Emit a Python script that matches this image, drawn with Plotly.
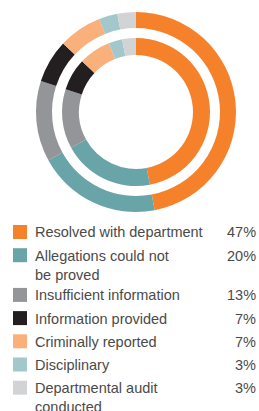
import plotly.graph_objects as go

# ---- data ----
categories = [
    "Resolved with department",
    "Allegations could not<br>be proved",
    "Insufficient information",
    "Information provided",
    "Criminally reported",
    "Disciplinary",
    "Departmental audit<br>conducted",
]
outer_values = [47, 20, 13, 7, 7, 3, 3]
inner_values = [47, 20, 13, 7, 7, 3, 3]
pct_labels = ["47%", "20%", "13%", "7%", "7%", "3%", "3%"]
colors = ["#F5822A", "#68A4A8", "#949599", "#231F20", "#F9B07A", "#A3C8CB", "#D1D3D4"]
title_text = "during period 2019 (%)"

W, H = 259, 411
FAMILY = "Arial"


def px(x):
    return x / W


def py(y):
    return 1 - y / H


fig = go.Figure()

# outer ring: centre (136,112), radius 100
fig.add_trace(go.Pie(
    values=outer_values, labels=[c.replace("<br>", " ") for c in categories],
    marker=dict(colors=colors, line=dict(width=0)),
    hole=0.84, sort=False, direction="clockwise", rotation=0,
    textinfo="none", hoverinfo="label+percent", showlegend=False,
    domain=dict(x=[px(36), px(236)], y=[py(212), py(12)]),
))
# inner ring: radius 74
fig.add_trace(go.Pie(
    values=inner_values, labels=[c.replace("<br>", " ") for c in categories],
    marker=dict(colors=colors, line=dict(width=0)),
    hole=0.77, sort=False, direction="clockwise", rotation=0,
    textinfo="none", hoverinfo="label+percent", showlegend=False,
    domain=dict(x=[px(62), px(210)], y=[py(186), py(38)]),
))

font = dict(family=FAMILY, size=14.5, color="#4a4a4a")
annotations = []
shapes = []
extra = 0
for i, (lab, pct, col) in enumerate(zip(categories, pct_labels, colors)):
    yc = 232 + 23.2 * i + 16.5 * extra
    shapes.append(dict(type="rect", xref="paper", yref="paper",
                       x0=px(13), x1=px(27), y0=py(yc + 7), y1=py(yc - 7),
                       fillcolor=col, line=dict(width=0)))
    annotations.append(dict(xref="paper", yref="paper", x=px(33), y=py(yc - 9.5),
                            xanchor="left", yanchor="top", text=lab, showarrow=False,
                            align="left", font=font))
    annotations.append(dict(xref="paper", yref="paper", x=px(258), y=py(yc - 9.5),
                            xanchor="right", yanchor="top", text=pct, showarrow=False,
                            align="right", font=font))
    extra += lab.count("<br>")

# title, mostly cut off at the top
annotations.append(dict(xref="paper", yref="paper", x=px(104), y=py(2.2),
                        xanchor="left", yanchor="bottom", text=title_text,
                        showarrow=False, font=dict(family=FAMILY, size=16, color="#F5822A")))

fig.update_layout(
    width=W, height=H, margin=dict(l=0, r=0, t=0, b=0),
    paper_bgcolor="white", plot_bgcolor="white",
    annotations=annotations, shapes=shapes,
)

fig.write_html("out.html", config={"displayModeBar": False},
               post_script="document.body.style.margin='0';document.body.style.overflow='hidden';")
